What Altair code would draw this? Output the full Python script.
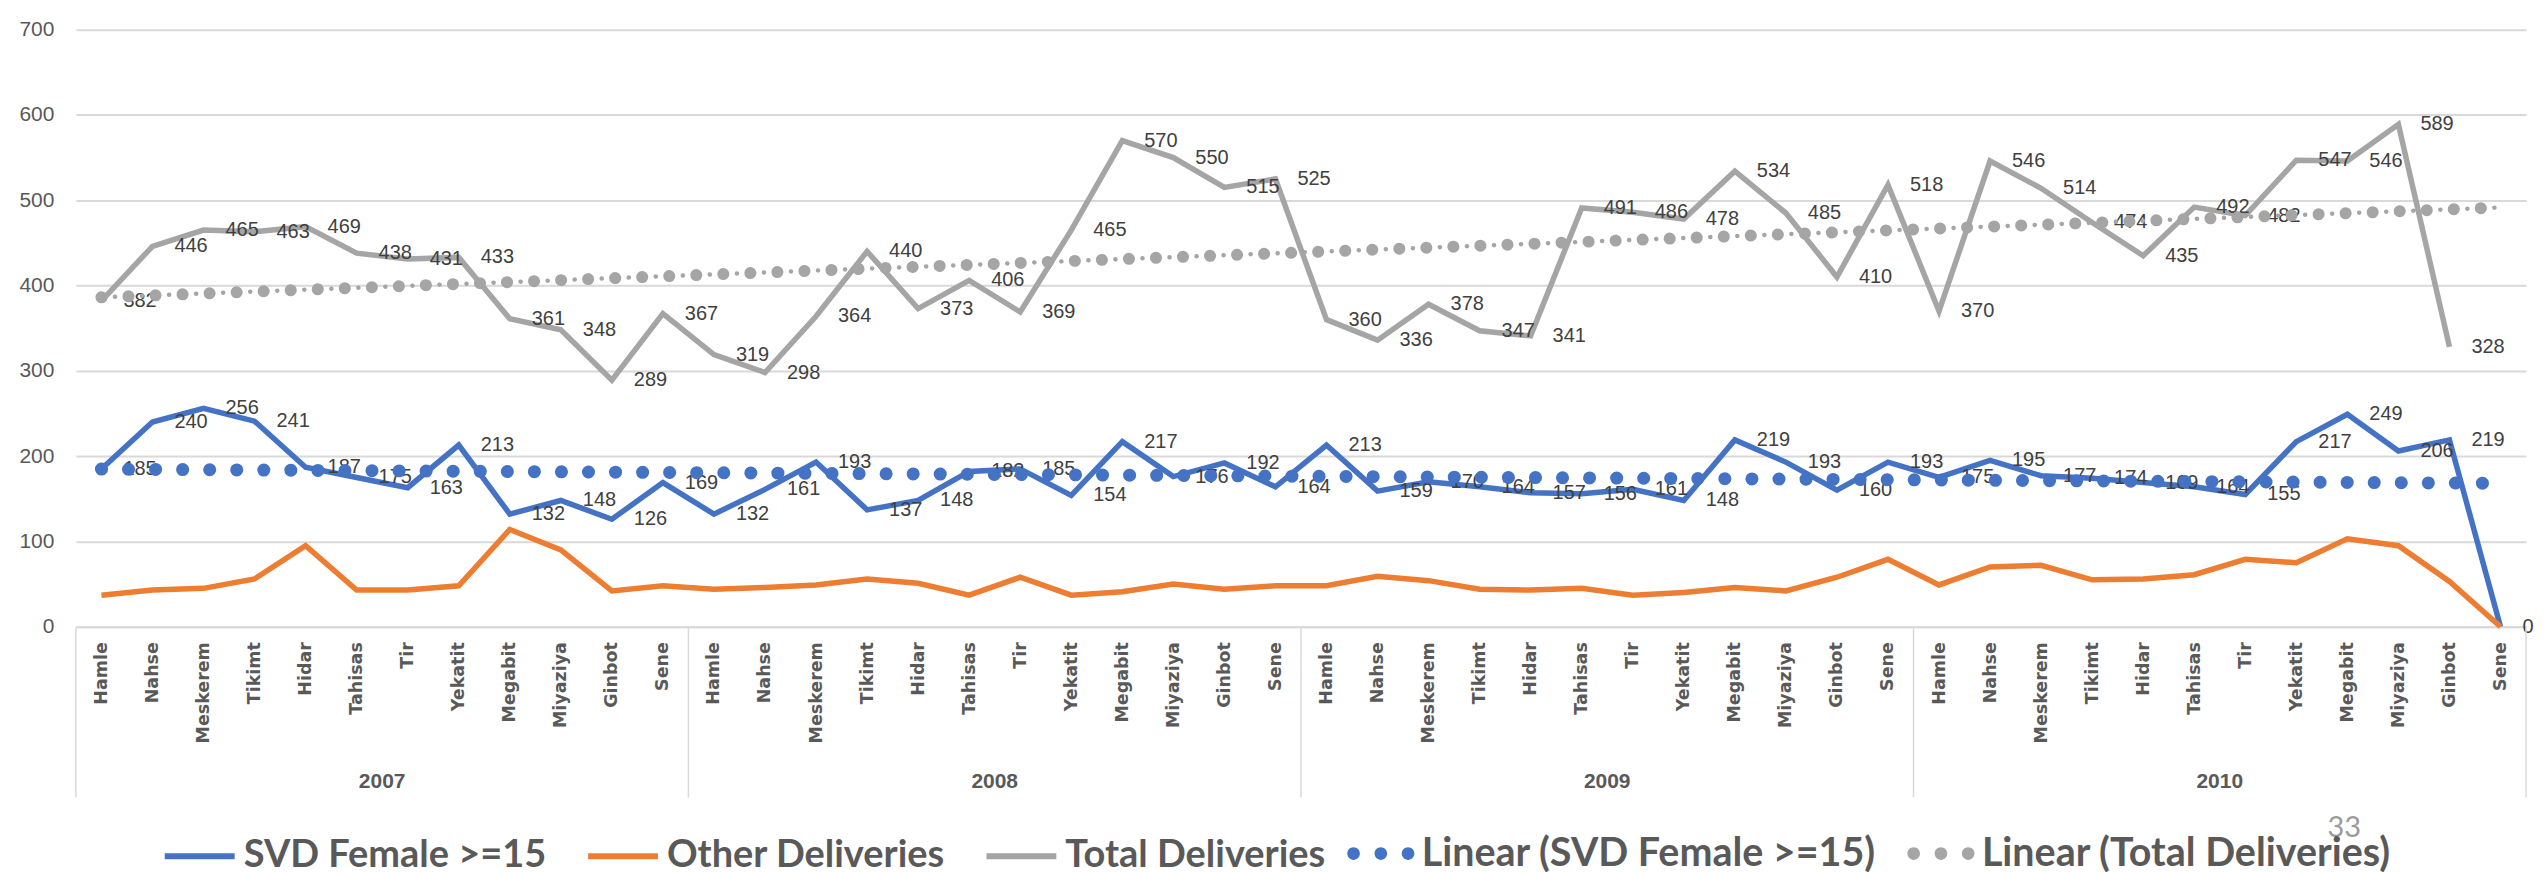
import altair as alt
import pandas as pd

months = ["Hamle", "Nahse", "Meskerem", "Tikimt", "Hidar", "Tahisas", "Tir",
          "Yekatit", "Megabit", "Miyaziya", "Ginbot", "Sene"]
years = ["2007", "2008", "2009", "2010"]

series_names = ["SVD Female >=15", "Other Deliveries", "Total Deliveries"]
trend_names = ["Linear (SVD Female >=15)", "Linear (Total Deliveries)"]
series_colors = ["#4472C4", "#ED7D31", "#A5A5A5"]
trend_colors = ["#4472C4", "#A5A5A5"]
y_ticks = [0, 100, 200, 300, 400, 500, 600, 700]
page_number = ["33"]

svd = [185, 240, 256, 241, 187, 175, 163, 213, 132, 148, 126, 169,
       132, 161, 193, 137, 148, 182, 185, 154, 217, 176, 192, 164,
       213, 159, 170, 164, 157, 156, 161, 148, 219, 193, 160, 193,
       175, 195, 177, 174, 169, 164, 155, 217, 249, 206, 219, 0]
other = [37, 43, 45, 56, 95, 43, 43, 48, 114, 90, 42, 48,
         44, 46, 49, 56, 51, 37, 58, 37, 41, 50, 44, 48,
         48, 59, 54, 44, 43, 45, 37, 40, 46, 42, 58, 79,
         49, 70, 72, 55, 56, 61, 79, 75, 103, 95, 53, 0]
total = [382, 446, 465, 463, 469, 438, 431, 433, 361, 348, 289, 367,
         319, 298, 364, 440, 373, 406, 369, 465, 570, 550, 515, 525,
         360, 336, 378, 347, 341, 491, 486, 478, 534, 485, 410, 518,
         370, 546, 514, 474, 435, 492, 482, 547, 546, 589, 328, None]

rows = []
for name, vals in zip(series_names, [svd, other, total]):
    for i, v in enumerate(vals):
        rows.append({"idx": i, "month": months[i % 12], "year": years[i // 12],
                     "series": name, "value": v})
df = pd.DataFrame(rows)

n = len(svd)
year_df = pd.DataFrame({"year": years,
                        "idx": [k * 12 + 5.5 for k in range(len(years))]})
sep_df = pd.DataFrame({"idx": [k * 12 - 0.5 for k in range(len(years) + 1)]})
legend_df = pd.DataFrame({"trend": trend_names})
page_df = pd.DataFrame({"txt": page_number})

W, H = 2454, 598
NUM_FONT = "Liberation Sans"
LEG_FONT = "Lato"
GRID = "#d9d9d9"
TXT = "#595959"

month_expr = "[" + ",".join("'%s'" % m for m in months) + "][datum.value % 12]"

X = alt.X("idx:Q",
          scale=alt.Scale(domain=[-0.5, n - 0.5], nice=False, zero=False),
          axis=alt.Axis(values=list(range(n)), labelExpr=month_expr, labelAngle=-90,
                        labelFont="DejaVu Sans", labelFontWeight="bold",
                        labelFontSize=17.5, labelColor=TXT, labelPadding=15,
                        ticks=False, grid=False, domainColor=GRID, domainWidth=2,
                        title=None, labelOverlap=False, labelFlush=False,
                        labelBound=False))
Y = alt.Y("value:Q",
          scale=alt.Scale(domain=[0, 700], nice=False),
          axis=alt.Axis(values=y_ticks, title=None, domain=False, ticks=False,
                        gridColor=GRID, gridWidth=2, labelFont=NUM_FONT,
                        labelFontSize=21, labelColor=TXT, labelPadding=22,
                        minExtent=63, maxExtent=63))

dots_path = ("M-0.96,0a0.18,0.18 0 1,0 0.36,0a0.18,0.18 0 1,0 -0.36,0 "
             "M-0.18,0a0.18,0.18 0 1,0 0.36,0a0.18,0.18 0 1,0 -0.36,0 "
             "M0.6,0a0.18,0.18 0 1,0 0.36,0a0.18,0.18 0 1,0 -0.36,0")

common_leg = dict(title=None, orient="none", direction="horizontal",
                  labelFont=LEG_FONT, labelFontWeight="bold",
                  labelColor=TXT, labelOffset=6, columnPadding=29,
                  labelLimit=2000, symbolSize=4900, legendY=790)

lines = alt.Chart(df).transform_filter("isValid(datum.value)").mark_line(
    strokeWidth=5.5).encode(
    x=X, y=Y,
    stroke=alt.Stroke("series:N",
                      scale=alt.Scale(domain=series_names, range=series_colors),
                      legend=alt.Legend(symbolType="stroke", symbolStrokeWidth=6,
                                        labelFontSize=38, legendX=86, **common_leg)),
)

labels = alt.Chart(df).transform_filter(
    "isValid(datum.value) && datum.series != 'Other Deliveries'").mark_text(
    align="left", baseline="middle", dx=22, font=NUM_FONT, fontSize=20,
    color="#404040").encode(x=X, y=Y, text="value:Q")

trend_svd = alt.Chart(df).transform_filter(
    "datum.series == 'SVD Female >=15' && isValid(datum.value)").transform_regression(
    "idx", "value", extent=[0, n - 1]).mark_line(
    color=trend_colors[0], strokeWidth=13, strokeDash=[0.1, 27],
    strokeCap="round").encode(x=X, y=Y)

trend_tot = alt.Chart(df).transform_filter(
    "datum.series == 'Total Deliveries' && isValid(datum.value)").transform_regression(
    "idx", "value", extent=[0, n - 1])

trend_tot_big = trend_tot.mark_line(
    color=trend_colors[1], strokeWidth=12, strokeDash=[0.1, 27],
    strokeCap="round").encode(x=X, y=Y)
trend_tot_small = trend_tot.mark_line(
    color=trend_colors[1], strokeWidth=4.5, strokeDash=[0.1, 27],
    strokeDashOffset=13.5, strokeCap="round").encode(x=X, y=Y)

seps = alt.Chart(sep_df).mark_rule(color=GRID, strokeWidth=1.5).encode(
    x=X, y=alt.value(H + 1), y2=alt.value(H + 171))

year_labels = alt.Chart(year_df).mark_text(
    align="center", baseline="middle", font=NUM_FONT, fontSize=21,
    fontWeight="bold", color=TXT).encode(x=X, y=alt.value(754), text="year:N")

page_text = alt.Chart(page_df).mark_text(
    align="center", baseline="middle", font=LEG_FONT, fontSize=29,
    color="#9a9a9a").encode(x=alt.value(2272), y=alt.value(800), text="txt:N")

legend_pts = alt.Chart(legend_df).mark_point(filled=True, size=10).encode(
    color=alt.Color("trend:N",
                    scale=alt.Scale(domain=trend_names, range=trend_colors),
                    legend=alt.Legend(symbolType=dots_path, symbolStrokeWidth=0,
                                      symbolOpacity=1, labelFontSize=39.5,
                                      legendX=1272, **common_leg)),
    opacity=alt.value(0),
)

chart = alt.layer(
    lines, labels, trend_svd, trend_tot_big, trend_tot_small, seps, year_labels,
    page_text, legend_pts
).properties(
    width=W, height=H,
    padding={"left": 5, "top": 10, "right": 5, "bottom": 2},
    background="white",
).configure_view(stroke=None)

chart.save("out.html", embed_options={"renderer": "svg", "actions": False})
